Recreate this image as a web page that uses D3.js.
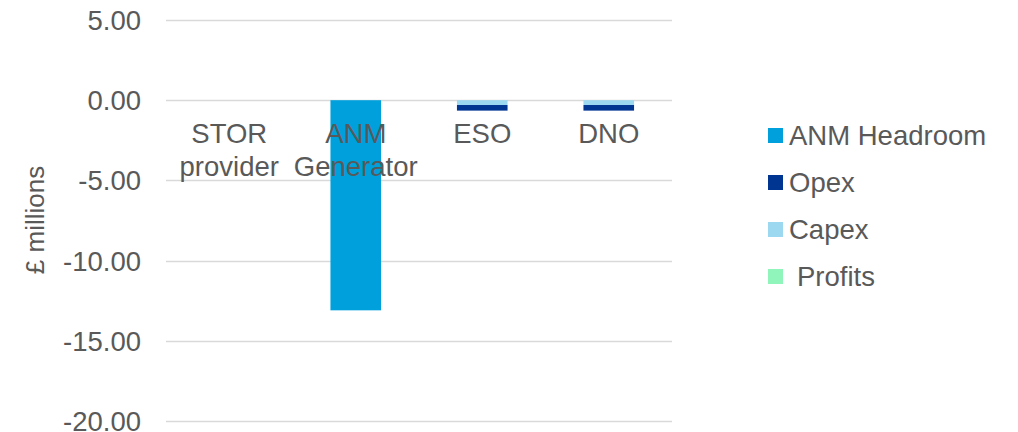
<!DOCTYPE html>
<html><head><meta charset="utf-8">
<script src="https://cdn.jsdelivr.net/npm/d3@7"></script>
<style>body{margin:0;background:#fff}text{font-family:"Liberation Sans",Arial,sans-serif}</style>
</head><body><svg id="c" width="1018" height="432"></svg>
<script>
const categories = [["STOR","provider"],["ANM","Generator"],["ESO"],["DNO"]];
const categoryKeys = ["STOR provider","ANM Generator","ESO","DNO"];
// stacking order: first series sits closest to zero
const seriesNames = ["Profits","Capex","Opex","ANM Headroom"];
const profits = [0,0,0,0];
const capex = [0,0,-0.3,-0.3];
const opex = [0,0,-0.35,-0.35];
const anmHeadroom = [0,-13.1,0,0];
const legendOrder = ["ANM Headroom","Opex","Capex","Profits"];
const colors = {"ANM Headroom":"#00a0dc","Opex":"#003591","Capex":"#9cd8f0","Profits":"#8ff5ba"};
const yTicks = [5,0,-5,-10,-15,-20];

const svg = d3.select("#c");
const x = d3.scaleBand().domain(categoryKeys).range([166,672]).paddingInner(0.6).paddingOuter(0.3);
const y = d3.scaleLinear().domain([-20,5]).range([421,20]);
const txt = "#595959";
const fs = 27.5;

// gridlines
svg.append("g").selectAll("line").data(yTicks).join("line")
  .attr("x1",166).attr("x2",672).attr("y1",d=>Math.round(y(d))+0.5).attr("y2",d=>Math.round(y(d))+0.5)
  .attr("stroke","#d9d9d9").attr("stroke-width",1.5);

// y tick labels
svg.append("g").selectAll("text").data(yTicks).join("text")
  .attr("x",141).attr("y",d=>y(d)).attr("dy","0.36em").attr("text-anchor","end")
  .attr("font-size",fs).attr("fill",txt).text(d=>d3.format(".2f")(d).replace("−","-"));

// y title
svg.append("text").attr("transform","translate(44,220) rotate(-90)").attr("text-anchor","middle")
  .attr("font-size",26).attr("fill",txt).text("£ millions");

// stacked bars
const dataMap = {"Profits":profits,"Capex":capex,"Opex":opex,"ANM Headroom":anmHeadroom};
const rows = categoryKeys.map((k,i)=>{const o={cat:k};seriesNames.forEach(s=>o[s]=dataMap[s][i]);return o;});
const stack = d3.stack().keys(seriesNames).offset(d3.stackOffsetDiverging)(rows);
svg.append("g").selectAll("g").data(stack).join("g").attr("fill",d=>colors[d.key])
  .selectAll("rect").data(d=>d).join("rect")
  .attr("x",d=>x(d.data.cat)).attr("width",x.bandwidth())
  .attr("y",d=>y(Math.max(d[0],d[1]))).attr("height",d=>Math.abs(y(d[0])-y(d[1])));

// category labels
const cl = svg.append("g");
categories.forEach((lines,i)=>{
  const t = cl.append("text").attr("text-anchor","middle").attr("font-size",fs).attr("fill",txt);
  lines.forEach((ln,j)=>t.append("tspan").attr("x",x(categoryKeys[i])+x.bandwidth()/2).attr("y",143+j*33).text(ln));
});

// legend
const lg = svg.append("g");
legendOrder.forEach((s,i)=>{
  const yy = 135 + i*47;
  lg.append("rect").attr("x",768).attr("y",yy-7).attr("width",15).attr("height",15).attr("fill",colors[s]);
  lg.append("text").attr("x", s==="Profits"?797:789).attr("y",yy).attr("dy","0.36em")
    .attr("font-size",fs).attr("fill",txt).text(s);
});
</script></body></html>
